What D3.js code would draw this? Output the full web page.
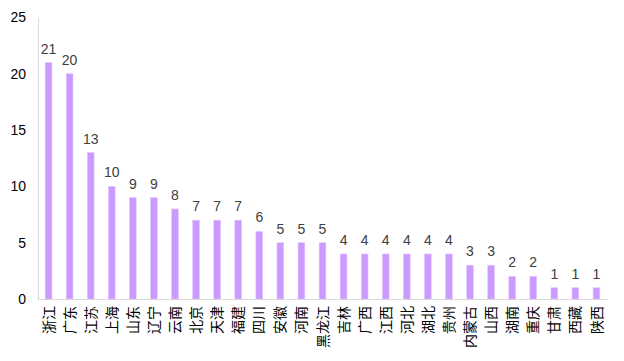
<!DOCTYPE html>
<html><head><meta charset="utf-8">
<script src="https://cdn.jsdelivr.net/npm/d3@7"></script>
<style>body{margin:0;background:#fff}svg{display:block}</style>
</head><body>
<svg id="c" width="624" height="361"></svg>
<script>
const categories = ["浙江","广东","江苏","上海","山东","辽宁","云南","北京","天津","福建","四川","安徽","河南","黑龙江","吉林","广西","江西","河北","湖北","贵州","内蒙古","山西","湖南","重庆","甘肃","西藏","陕西"];
const values = [21,20,13,10,9,9,8,7,7,7,6,5,5,5,4,4,4,4,4,4,3,3,2,2,1,1,1];
const yTicks = [0,5,10,15,20,25];

const svg = d3.select("#c");
const font = "'Liberation Sans', Arial, 'Noto Sans CJK SC', sans-serif";
const x = d3.scaleBand().domain(categories).range([38, 607]).paddingInner(0.68).paddingOuter(0.34);
const y = d3.scaleLinear().domain([0, 25]).range([299, 17.5]);

// axes
const yAxis = svg.append("g").attr("transform", "translate(38,0)")
  .call(d3.axisLeft(y).tickValues(yTicks).tickSize(0).tickPadding(12));
yAxis.select(".domain").attr("stroke", "#d9d9d9");
yAxis.selectAll("text").attr("font-family", font).attr("font-size", 14).attr("fill", "#000");

const xAxis = svg.append("g").attr("transform", "translate(0,299)")
  .call(d3.axisBottom(x).tickSize(0).tickSizeOuter(0));
xAxis.select(".domain").attr("stroke", "#d9d9d9");
xAxis.selectAll("text")
  .attr("font-family", font).attr("font-size", 14).attr("fill", "#000")
  .attr("transform", "rotate(-90)")
  .attr("text-anchor", "end")
  .attr("x", -7).attr("y", 0).attr("dy", "0.36em");

// bars
svg.append("g").selectAll("rect").data(values).join("rect")
  .attr("x", (d, i) => x(categories[i]))
  .attr("y", d => y(d))
  .attr("width", x.bandwidth())
  .attr("height", d => y(0) - y(d))
  .attr("fill", "#cc99ff")
  .attr("stroke", "#e2c6ff").attr("stroke-width", 0.6);

// value labels
svg.append("g").selectAll("text").data(values).join("text")
  .attr("x", (d, i) => x(categories[i]) + x.bandwidth() / 2)
  .attr("y", d => y(d) - 9)
  .attr("text-anchor", "middle")
  .attr("font-family", font).attr("font-size", 14).attr("fill", "#404040")
  .text(d => d);
</script>
</body></html>
